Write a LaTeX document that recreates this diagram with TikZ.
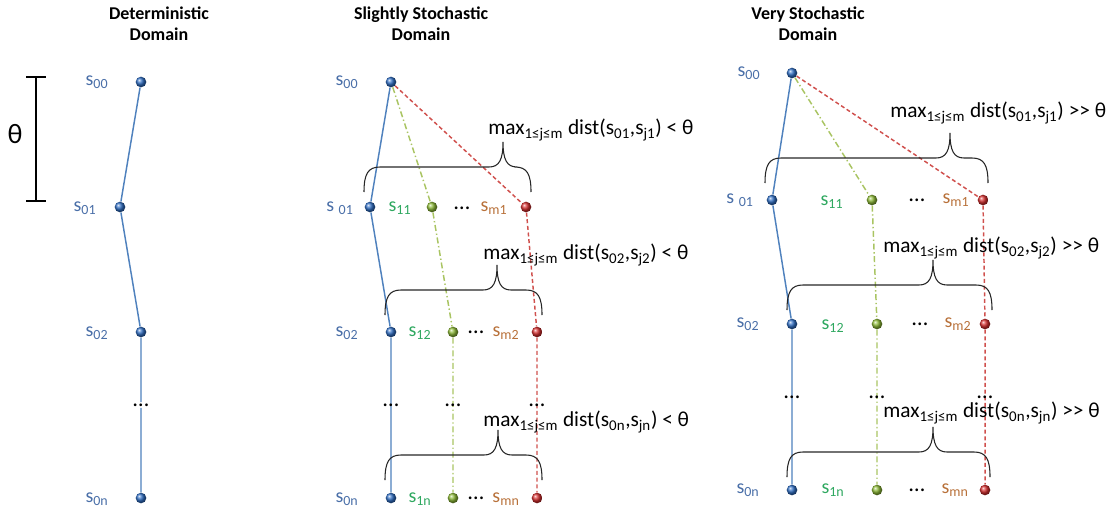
\documentclass[tikz,border=0pt]{standalone}
\usepackage{fontspec}
\setmainfont{Carlito}
\usetikzlibrary{positioning}
\definecolor{ballblue}{HTML}{2F6EC4}
\definecolor{ballgreen}{HTML}{8DBA36}
\definecolor{ballred}{HTML}{D62E2E}
\definecolor{lineblue}{HTML}{4F81BD}
\definecolor{linegreen}{HTML}{A9C462}
\definecolor{linered}{HTML}{D0504D}
\definecolor{labblue}{HTML}{4A6FA8}
\definecolor{labgreen}{HTML}{2FA860}
\definecolor{labbrown}{HTML}{B8713A}

% curly brace: left x, right x, tip x, end y
\newcommand{\curlybrace}[4]{%
  \draw[bracestyle] (#1,#4) .. controls (#1,{#4-18}) and ({#1+4},{#4-25}) .. ({#1+16},{#4-25})
    -- ({#3-14},{#4-25}) .. controls ({#3-4},{#4-25}) and (#3,{#4-32}) .. (#3,{#4-50})
    .. controls (#3,{#4-32}) and ({#3+4},{#4-25}) .. ({#3+14},{#4-25})
    -- ({#2-16},{#4-25}) .. controls ({#2-4},{#4-25}) and (#2,{#4-18}) .. (#2,#4);}

\begin{document}
\begin{tikzpicture}[x=.75pt,y=-.75pt,
  stateball/.style={circle,shading=ball,inner sep=0pt,minimum size=8pt},
  bluestate/.style={stateball,ball color=ballblue},
  greenstate/.style={stateball,ball color=ballgreen},
  redstate/.style={stateball,ball color=ballred},
  lab/.style={inner sep=0pt,font=\fontsize{15}{17}\selectfont},
  bluelab/.style={lab,text=labblue},
  greenlab/.style={lab,text=labgreen},
  brownlab/.style={lab,text=labbrown},
  dotsnode/.style={inner sep=1pt,font=\fontsize{17}{18}\selectfont},
  title/.style={align=center,font=\fontsize{13.5}{15.5}\selectfont\bfseries},
  maxlab/.style={anchor=west,inner sep=0pt,font=\fontsize{16}{18}\selectfont},
  blueline/.style={lineblue,line width=1.1pt},
  greenline/.style={linegreen,line width=1.1pt,dash pattern=on 4.5pt off 2pt on 1pt off 2pt},
  redline/.style={linered,line width=1.1pt,dash pattern=on 3pt off 2pt},
  bracestyle/.style={black!85,line width=.8pt}]
  \useasboundingbox (0,0) rectangle (1112,514);

  % titles
  \node[title] (t1) at (159,24) {Deterministic\\Domain};
  \node[title] (t2) at (421,24) {Slightly Stochastic\\Domain};
  \node[title] (t3) at (808,24) {Very Stochastic\\Domain};

  % theta bar
  \draw[line width=1pt] (36,77) -- (36,201);
  \draw[line width=1pt] (26,77) -- (46,77);
  \draw[line width=1pt] (26,201) -- (46,201);
  \node[font=\fontsize{21}{22}\selectfont] (th) at (15,134) {θ};

  % deterministic domain
  \node[bluestate] (a0) at (141,82) {};
  \node[bluestate] (a1) at (120,207) {};
  \node[bluestate] (a2) at (141,332) {};
  \node[dotsnode] (ad) at (141,405) {…};
  \node[bluestate] (an) at (141,498) {};
  \draw[blueline] (a0)--(a1)--(a2)--(ad)--(an);
  \node[bluelab] (la0) at (97,82) {s\textsubscript{00}};
  \node[bluelab] (la1) at (85,208) {s\textsubscript{01}};
  \node[bluelab] (la2) at (97,333) {s\textsubscript{02}};
  \node[bluelab] (lan) at (97,499) {s\textsubscript{0n}};

  % slightly stochastic domain
  \node[bluestate] (b0) at (391,82) {};
  \node[bluestate] (b1) at (370,207) {};
  \node[bluestate] (b2) at (391,332) {};
  \node[bluestate] (bn) at (391,498) {};
  \node[greenstate] (g1) at (432,207) {};
  \node[greenstate] (g2) at (453,332) {};
  \node[greenstate] (gn) at (453,498) {};
  \node[redstate] (r1) at (526,207) {};
  \node[redstate] (r2) at (537,332) {};
  \node[redstate] (rn) at (537,498) {};
  \draw[blueline] (b0)--(b1)--(b2)--(bn);
  \draw[greenline] (b0)--(g1)--(g2)--(gn);
  \draw[redline] (b0)--(r1)--(r2)--(rn);
  \node[dotsnode] (bd) at (391,405) {…};
  \node[dotsnode] (gd) at (453,405) {…};
  \node[dotsnode] (rd) at (537,405) {…};
  \node[bluelab] (lb0) at (347,82) {s\textsubscript{00}};
  \node[bluelab] (lb1) at (340,208) {s \textsubscript{01}};
  \node[greenlab] (lg1) at (400,208) {s\textsubscript{11}};
  \node[dotsnode] (db1) at (462,208) {…};
  \node[brownlab] (lr1) at (494,208) {s\textsubscript{m1}};
  \node[bluelab] (lb2) at (347,333) {s\textsubscript{02}};
  \node[greenlab] (lg2) at (420,333) {s\textsubscript{12}};
  \node[dotsnode] (db2) at (476,332) {…};
  \node[brownlab] (lr2) at (506,333) {s\textsubscript{m2}};
  \node[bluelab] (lbn) at (347,499) {s\textsubscript{0n}};
  \node[greenlab] (lgn) at (420,499) {s\textsubscript{1n}};
  \node[dotsnode] (dbn) at (476,498) {…};
  \node[brownlab] (lrn) at (506,499) {s\textsubscript{mn}};
  \curlybrace{364}{531}{503}{192}
  \curlybrace{385}{542}{497}{315}
  \curlybrace{385}{542}{498}{480}
  \node[maxlab] (mb1) at (488,130) {max\textsubscript{1≤j≤m} dist(s\textsubscript{01},s\textsubscript{j1}) < θ};
  \node[maxlab] (mb2) at (483,255) {max\textsubscript{1≤j≤m} dist(s\textsubscript{02},s\textsubscript{j2}) < θ};
  \node[maxlab] (mbn) at (483,422) {max\textsubscript{1≤j≤m} dist(s\textsubscript{0n},s\textsubscript{jn}) < θ};

  % very stochastic domain
  \node[bluestate] (c0) at (792,73) {};
  \node[bluestate] (c1) at (772,200) {};
  \node[bluestate] (c2) at (792,324) {};
  \node[bluestate] (cn) at (792,490) {};
  \node[greenstate] (h1) at (872,200) {};
  \node[greenstate] (h2) at (877,324) {};
  \node[greenstate] (hn) at (877,490) {};
  \node[redstate] (q1) at (983,200) {};
  \node[redstate] (q2) at (985,324) {};
  \node[redstate] (qn) at (985,490) {};
  \draw[blueline] (c0)--(c1)--(c2)--(cn);
  \draw[greenline] (c0)--(h1)--(h2)--(hn);
  \draw[redline] (c0)--(q1)--(q2)--(qn);
  \node[dotsnode] (cd) at (792,397) {…};
  \node[dotsnode] (hd) at (877,397) {…};
  \node[dotsnode] (qd) at (985,397) {…};
  \node[bluelab] (lc0) at (749,73) {s\textsubscript{00}};
  \node[bluelab] (lc1) at (740,200) {s \textsubscript{01}};
  \node[greenlab] (lh1) at (832,202) {s\textsubscript{11}};
  \node[dotsnode] (dc1) at (917,200) {…};
  \node[brownlab] (lq1) at (956,200) {s\textsubscript{m1}};
  \node[bluelab] (lc2) at (748,324) {s\textsubscript{02}};
  \node[greenlab] (lh2) at (833,326) {s\textsubscript{12}};
  \node[dotsnode] (dc2) at (920,324) {…};
  \node[brownlab] (lq2) at (958,324) {s\textsubscript{m2}};
  \node[bluelab] (lcn) at (748,490) {s\textsubscript{0n}};
  \node[greenlab] (lhn) at (833,490) {s\textsubscript{1n}};
  \node[dotsnode] (dcn) at (917,490) {…};
  \node[brownlab] (lqn) at (955,490) {s\textsubscript{mn}};
  \curlybrace{765}{988}{950}{183}
  \curlybrace{787}{992}{933}{310}
  \curlybrace{787}{990}{933}{477}
  \node[maxlab] (mc1) at (890,113) {max\textsubscript{1≤j≤m} dist(s\textsubscript{01},s\textsubscript{j1}) >{}> θ};
  \node[maxlab] (mc2) at (883,248) {max\textsubscript{1≤j≤m} dist(s\textsubscript{02},s\textsubscript{j2}) >{}> θ};
  \node[maxlab] (mcn) at (883,413) {max\textsubscript{1≤j≤m} dist(s\textsubscript{0n},s\textsubscript{jn}) >{}> θ};
\end{tikzpicture}
\end{document}
